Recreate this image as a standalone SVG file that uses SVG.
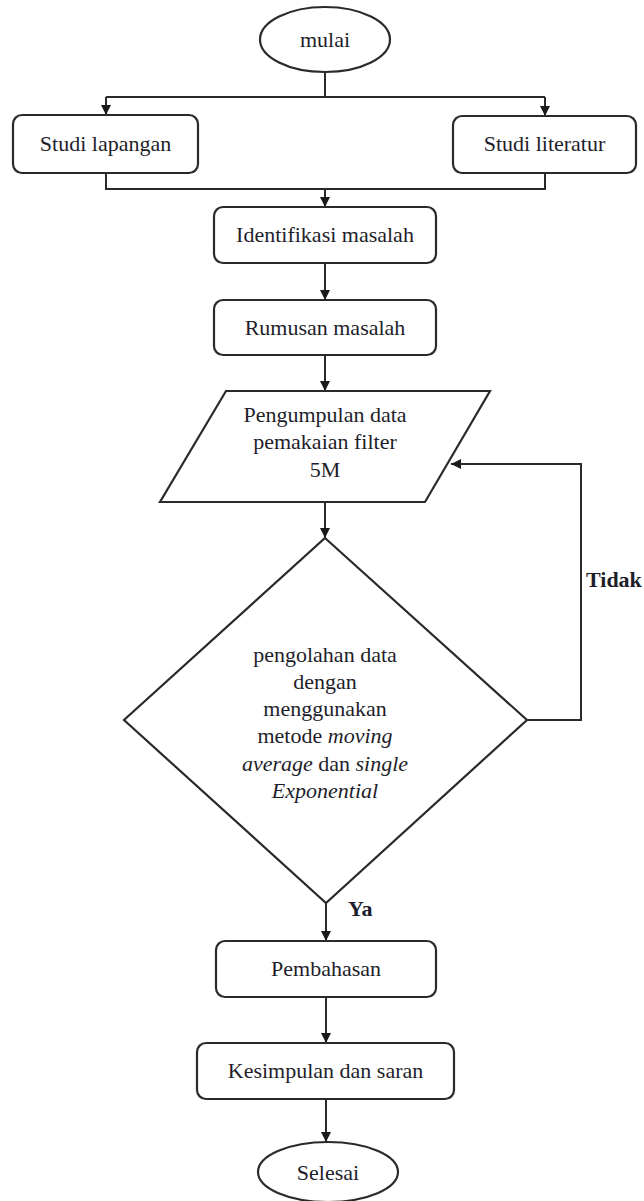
<svg xmlns="http://www.w3.org/2000/svg" width="644" height="1201" viewBox="0 0 644 1201">
<defs>
<marker id="arr" viewBox="0 0 10 10" refX="10" refY="5" markerWidth="10" markerHeight="10" markerUnits="userSpaceOnUse" orient="auto">
<path d="M0,0 L10,5 L0,10 Z" fill="#1a1a1a"/>
</marker>
<style>
.shape{fill:#fff;stroke:#2a2a2a;stroke-width:2.2}
.t{font-size:22px;fill:#1e1e2a;text-anchor:middle}
.b{font-size:22px;font-weight:bold;fill:#1e1e2a}
.c{fill:none;stroke:#2a2a2a;stroke-width:2}
</style>
</defs>
<rect width="644" height="1201" fill="#fff"/>
<g font-family="'Liberation Serif', 'DejaVu Serif', serif">
<g id="connectors">
<path class="c" d="M325,72 V97"/>
<path class="c" d="M106,97 H545"/>
<path class="c" d="M106,97 V115" marker-end="url(#arr)"/>
<path class="c" d="M545,97 V116" marker-end="url(#arr)"/>
<path class="c" d="M106,173 V189 H545 V173"/>
<path class="c" d="M325,189 V207" marker-end="url(#arr)"/>
<path class="c" d="M325,263 V300" marker-end="url(#arr)"/>
<path class="c" d="M325,355 V391" marker-end="url(#arr)"/>
<path class="c" d="M325,502 V538" marker-end="url(#arr)"/>
<path class="c" d="M527,720 H581 V464 H451" marker-end="url(#arr)"/>
<path class="c" d="M326,903 V941" marker-end="url(#arr)"/>
<path class="c" d="M326,997 V1043" marker-end="url(#arr)"/>
<path class="c" d="M326,1099 V1142" marker-end="url(#arr)"/>
<text class="b" x="586" y="587">Tidak</text>
<text class="b" x="348" y="916">Ya</text>
</g>
<g id="mulai">
<ellipse class="shape" cx="325" cy="39.5" rx="65" ry="32.5"/>
<text class="t" x="325" y="47">mulai</text>
</g>
<g id="studi-lapangan">
<rect class="shape" x="13" y="115" width="185" height="58" rx="9"/>
<text class="t" x="105.5" y="151">Studi lapangan</text>
</g>
<g id="studi-literatur">
<rect class="shape" x="453" y="116" width="183" height="57" rx="9"/>
<text class="t" x="544.5" y="151">Studi literatur</text>
</g>
<g id="identifikasi">
<rect class="shape" x="214" y="207" width="222" height="56" rx="9"/>
<text class="t" x="325" y="242">Identifikasi masalah</text>
</g>
<g id="rumusan">
<rect class="shape" x="214" y="300" width="222" height="55" rx="9"/>
<text class="t" x="325" y="335">Rumusan masalah</text>
</g>
<g id="pengumpulan">
<polygon class="shape" points="226,391 490,391 425,502 160,502"/>
<text class="t" x="325" y="422">Pengumpulan data</text>
<text class="t" x="325" y="449">pemakaian filter</text>
<text class="t" x="325" y="477">5M</text>
</g>
<g id="pengolahan">
<polygon class="shape" points="325,538 527,720 326,903 124,720"/>
<text class="t" x="325" y="662">pengolahan data</text>
<text class="t" x="325" y="689">dengan</text>
<text class="t" x="325" y="716">menggunakan</text>
<text class="t" x="325" y="743">metode <tspan font-style="italic">moving</tspan></text>
<text class="t" x="325" y="771"><tspan font-style="italic">average</tspan> dan <tspan font-style="italic">single</tspan></text>
<text class="t" x="325" y="798" font-style="italic">Exponential</text>
</g>
<g id="pembahasan">
<rect class="shape" x="216" y="941" width="220" height="56" rx="9"/>
<text class="t" x="326" y="976">Pembahasan</text>
</g>
<g id="kesimpulan">
<rect class="shape" x="197" y="1043" width="257" height="56" rx="9"/>
<text class="t" x="325.5" y="1078">Kesimpulan dan saran</text>
</g>
<g id="selesai">
<ellipse class="shape" cx="328" cy="1172" rx="70" ry="30"/>
<text class="t" x="328" y="1180">Selesai</text>
</g>
</g>
</svg>
